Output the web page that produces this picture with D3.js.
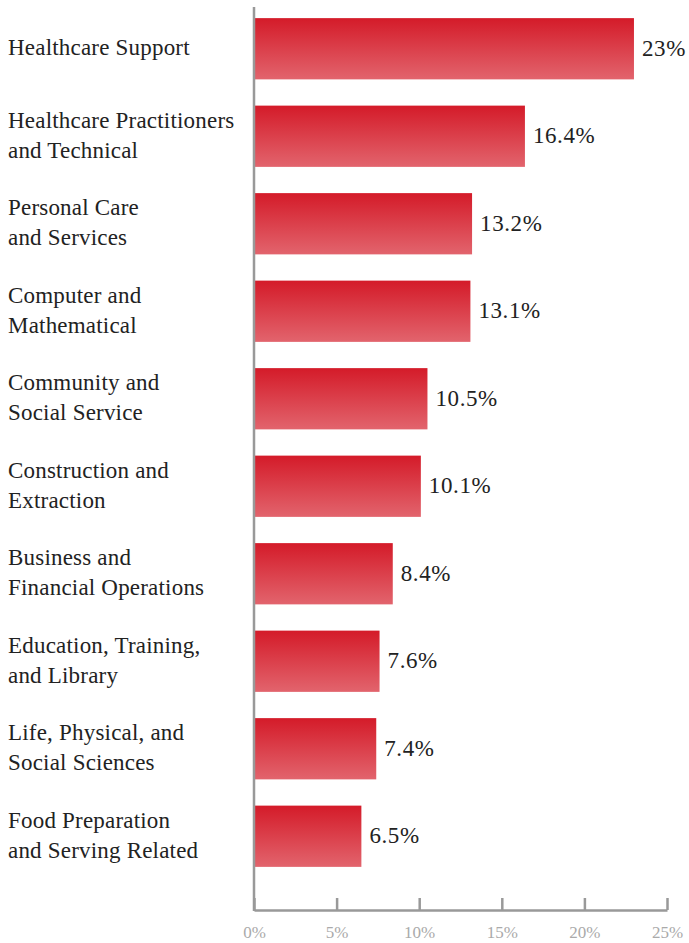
<!DOCTYPE html>
<html>
<head>
<meta charset="utf-8">
<script src="https://cdn.jsdelivr.net/npm/d3@7"></script>
<style>
  body { margin: 0; background: #fff; }
  text { font-family: "Liberation Serif", "DejaVu Serif", serif; }
</style>
</head>
<body>
<svg id="chart" width="689" height="943"></svg>
<script>
let categories = [
  ['Healthcare Support'],
  ['Healthcare Practitioners', 'and Technical'],
  ['Personal Care', 'and Services'],
  ['Computer and', 'Mathematical'],
  ['Community and', 'Social Service'],
  ['Construction and', 'Extraction'],
  ['Business and', 'Financial Operations'],
  ['Education, Training,', 'and Library'],
  ['Life, Physical, and', 'Social Sciences'],
  ['Food Preparation', 'and Serving Related']
]
let values = [23, 16.4, 13.2, 13.1, 10.5, 10.1, 8.4, 7.6, 7.4, 6.5]
let tickValues = [0, 5, 10, 15, 20, 25]

let svg = d3.select('#chart')

let x = d3.scaleLinear().domain([0, 25]).range([254, 667])
let y = d3.scaleBand()
    .domain(d3.range(values.length))
    .range([5, 880])
    .paddingInner(0.3)
    .paddingOuter(0.15)

let defs = svg.append('defs')
let grad = defs.append('linearGradient')
    .attr('id', 'barGrad')
    .attr('x1', 0).attr('y1', 0).attr('x2', 0).attr('y2', 1)
grad.append('stop').attr('offset', '0%').attr('stop-color', '#d41b29')
grad.append('stop').attr('offset', '100%').attr('stop-color', '#e2646d')

// bars
svg.selectAll('rect.bar')
    .data(values)
    .enter()
    .append('rect')
    .attr('class', 'bar')
    .attr('x', x(0))
    .attr('y', (d, i) => y(i))
    .attr('width', (d) => x(d) - x(0))
    .attr('height', y.bandwidth())
    .attr('fill', 'url(#barGrad)')

// value labels
svg.selectAll('text.value')
    .data(values)
    .enter()
    .append('text')
    .attr('class', 'value')
    .attr('x', (d) => x(d) + 8)
    .attr('y', (d, i) => y(i) + y.bandwidth() / 2)
    .attr('dy', '0.3em')
    .attr('font-size', 23)
    .attr('letter-spacing', 0.6)
    .attr('fill', '#222')
    .text((d) => d + '%')

// category labels
let cat = svg.selectAll('text.cat')
    .data(categories)
    .enter()
    .append('text')
    .attr('class', 'cat')
    .attr('font-size', 23)
    .attr('letter-spacing', 0.2)
    .attr('fill', '#222')
    .attr('y', (d, i) => y(i) + y.bandwidth() / 2)

cat.selectAll('tspan')
    .data((d) => d.map((line, j) => ({ line: line, j: j, n: d.length })))
    .enter()
    .append('tspan')
    .attr('x', 8)
    .attr('dy', (t) => t.j === 0 ? (0.28 - (t.n - 1) * 0.66) + 'em' : '1.32em')
    .text((t) => t.line)

// vertical axis line
svg.append('line')
    .attr('x1', x(0)).attr('x2', x(0))
    .attr('y1', 7).attr('y2', 911)
    .attr('stroke', '#999')
    .attr('stroke-width', 2.5)

// bottom axis
let xAxis = d3.axisBottom(x)
    .tickValues(tickValues)
    .tickSize(0)
    .tickFormat((d) => d + '%')

let axisG = svg.append('g')
    .attr('transform', 'translate(0,910)')
    .call(xAxis)

axisG.select('.domain')
    .attr('stroke', '#999')
    .attr('stroke-width', 2.5)

axisG.selectAll('.tick line')
    .attr('y1', 0)
    .attr('y2', -12)
    .attr('stroke', '#999')
    .attr('stroke-width', 2.5)

axisG.selectAll('.tick text')
    .attr('y', 16)
    .attr('dy', '0.71em')
    .attr('fill', '#aaa')
    .attr('font-size', 17)
    .attr('font-family', '"Liberation Serif", serif')
</script>
</body>
</html>
